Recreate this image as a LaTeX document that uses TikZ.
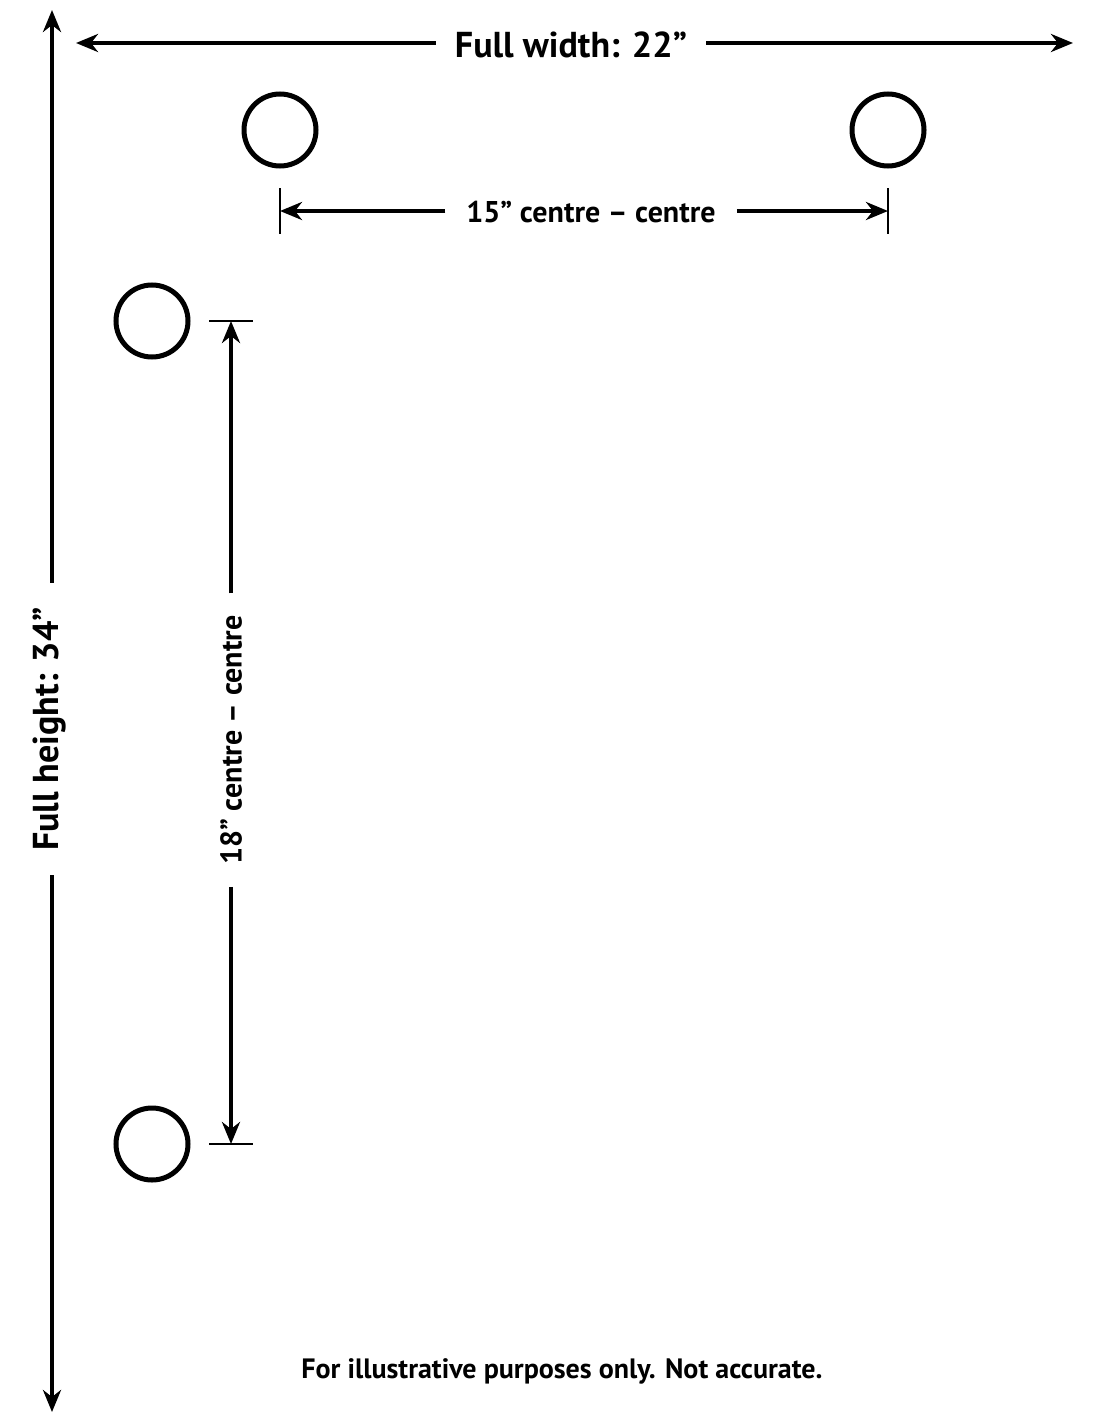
\documentclass[tikz,border=0pt]{standalone}
\usepackage{fontspec}
\setmainfont{PT Sans}
\usetikzlibrary{arrows.meta}
\begin{document}
\begin{tikzpicture}[x=1pt,y=-1pt,
  dim/.style={line width=4pt,-{Stealth[length=22pt,width=18pt,inset=7pt]}},
  tick/.style={line width=2.5pt},
  hole/.style={circle,draw,line width=5pt,minimum size=72pt,inner sep=0pt},
  lab/.style={font=\bfseries\fontsize{36}{40}\selectfont,inner sep=0pt},
  sublab/.style={font=\bfseries\fontsize{30}{34}\selectfont,inner sep=0pt},
  note/.style={font=\bfseries\fontsize{28}{32}\selectfont,inner sep=0pt}]
\useasboundingbox (0,0) rectangle (1103,1426);
\fill[white] (0,0) rectangle (1103,1426);
% holes
\node[hole] (h1) at (280,130) {};
\node[hole] (h2) at (888,130) {};
\node[hole] (h3) at (152,321) {};
\node[hole] (h4) at (152,1144) {};
% full width
\coordinate (wl) at (76,43);
\coordinate (wr) at (1073,43);
\node[lab,inner xsep=19pt] (wlab) at (571,45) {Full width: 22”};
\draw[dim] (wlab.west |- wl) -- (wl);
\draw[dim] (wlab.east |- wr) -- (wr);
% full height
\coordinate (ht) at (52,10);
\coordinate (hb) at (52,1412);
\node[lab,rotate=90,inner xsep=24pt] (hlab) at (50,729) {Full height: 34”};
\draw[dim] (ht |- hlab.east) -- (ht);
\draw[dim] (hb |- hlab.west) -- (hb);
% 15" centre-centre
\coordinate (c1) at (280,211);
\coordinate (c2) at (888,211);
\coordinate (t1a) at (280,188); \coordinate (t1b) at (280,234);
\coordinate (t2a) at (888,188); \coordinate (t2b) at (888,234);
\draw[tick] (t1a) -- (t1b);
\draw[tick] (t2a) -- (t2b);
\node[sublab,inner xsep=21pt] (clab) at (591,212) {15” centre – centre};
\draw[dim] (clab.west |- c1) -- (c1);
\draw[dim] (clab.east |- c2) -- (c2);
% 18" centre-centre
\coordinate (v1) at (231,321);
\coordinate (v2) at (231,1144);
\coordinate (u1a) at (209,321); \coordinate (u1b) at (253,321);
\coordinate (u2a) at (209,1144); \coordinate (u2b) at (253,1144);
\draw[tick] (u1a) -- (u1b);
\draw[tick] (u2a) -- (u2b);
\node[sublab,rotate=90,inner xsep=22pt] (vlab) at (231,740) {18” centre – centre};
\draw[dim] (v1 |- vlab.east) -- (v1);
\draw[dim] (v2 |- vlab.west) -- (v2);
% note
\node[note] (foot) at (562,1371) {For illustrative purposes only. Not accurate.};
\end{tikzpicture}
\end{document}
